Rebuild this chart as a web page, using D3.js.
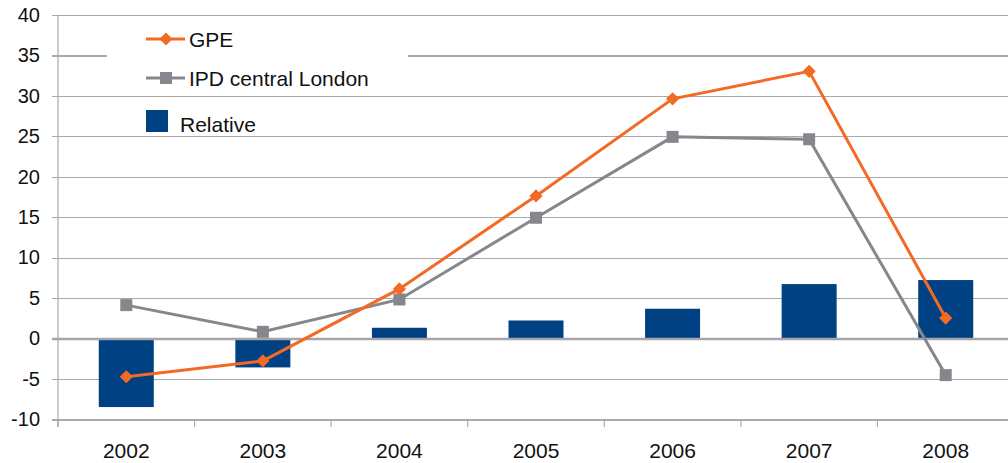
<!DOCTYPE html>
<html><head><meta charset="utf-8">
<script src="https://cdn.jsdelivr.net/npm/d3@7"></script>
<style>body{margin:0;background:#fff}svg{display:block;font-family:"Liberation Sans",Arial,sans-serif}</style>
</head><body><svg id="c" width="1008" height="463"></svg>
<script>
const years = ["2002","2003","2004","2005","2006","2007","2008"];
const gpe = [-4.65, -2.7, 6.2, 17.7, 29.7, 33.1, 2.6];
const ipd = [4.2, 0.9, 4.9, 15.0, 25.0, 24.7, -4.45];
const relative = [-8.4, -3.5, 1.4, 2.3, 3.75, 6.8, 7.3];
const yTicks = [-10, -5, 0, 5, 10, 15, 20, 25, 30, 35, 40];

const svg = d3.select("#c");
const x = d3.scaleBand().domain(years).range([58, 1014]).paddingInner(0).paddingOuter(0);
const y = d3.scaleLinear().domain([-10, 40]).range([420, 15.5]);
const gridCol = "#a9a9ae";

// gridlines
svg.append("g").selectAll("line").data(yTicks.filter(d => d !== 0)).join("line")
  .attr("x1", 52).attr("x2", 1008).attr("y1", d => y(d)).attr("y2", d => y(d))
  .attr("stroke", gridCol).attr("stroke-width", 1.2).attr("shape-rendering", "crispEdges");

// legend background
svg.append("rect").attr("x", 107).attr("y", 22).attr("width", 301).attr("height", 70).attr("fill", "#fff");

// y axis labels
svg.append("g").selectAll("text").data(yTicks).join("text")
  .attr("x", 40).attr("y", d => y(d) - 1).attr("dy", "0.36em").attr("text-anchor", "end")
  .attr("font-size", 20).attr("fill", "#111").text(d => d);

// y axis line
svg.append("line").attr("x1", 58).attr("x2", 58).attr("y1", 15).attr("y2", 427)
  .attr("stroke", gridCol).attr("stroke-width", 1.2);

// x axis ticks
const bounds = years.map(d => x(d)).concat([x(years[years.length-1]) + x.bandwidth()]);
svg.append("g").selectAll("line").data(bounds).join("line")
  .attr("x1", d => d).attr("x2", d => d).attr("y1", 420).attr("y2", 427)
  .attr("stroke", gridCol).attr("stroke-width", 1.2);
svg.append("g").selectAll("text").data(years).join("text")
  .attr("x", d => x(d) + x.bandwidth()/2).attr("y", 458).attr("text-anchor", "middle")
  .attr("font-size", 21).attr("fill", "#111").text(d => d);

// bars
const bw = 55;
svg.append("g").selectAll("rect").data(relative).join("rect")
  .attr("x", (d, i) => x(years[i]) + x.bandwidth()/2 - bw/2)
  .attr("width", bw)
  .attr("y", d => y(Math.max(0, d)))
  .attr("height", d => Math.abs(y(d) - y(0)))
  .attr("fill", "#004183");

// zero line
svg.append("line").attr("x1", 52).attr("x2", 1008).attr("y1", y(0)).attr("y2", y(0))
  .attr("stroke", "#a5a5aa").attr("stroke-width", 2.5);

const cx = (d, i) => x(years[i]) + x.bandwidth()/2;
const line = d3.line().x(cx).y(d => y(d));
const orange = "#f26a24", grey = "#85878c";

svg.append("path").datum(ipd).attr("d", line).attr("fill", "none").attr("stroke", grey).attr("stroke-width", 3);
svg.append("g").selectAll("rect").data(ipd).join("rect")
  .attr("x", (d, i) => cx(d, i) - 6).attr("y", d => y(d) - 6).attr("width", 12).attr("height", 12).attr("fill", grey);

svg.append("path").datum(gpe).attr("d", line).attr("fill", "none").attr("stroke", orange).attr("stroke-width", 3);
svg.append("g").selectAll("path").data(gpe).join("path")
  .attr("d", d3.symbol().type(d3.symbolDiamond2).size(110))
  .attr("transform", (d, i) => `translate(${cx(d, i)},${y(d)})`).attr("fill", orange);

// legend
const lg = svg.append("g");
lg.append("line").attr("x1", 146).attr("x2", 185).attr("y1", 39).attr("y2", 39).attr("stroke", orange).attr("stroke-width", 3);
lg.append("path").attr("d", d3.symbol().type(d3.symbolDiamond2).size(110)).attr("transform", "translate(166,39)").attr("fill", orange);
lg.append("text").attr("x", 189).attr("y", 39).attr("dy", "0.36em").attr("font-size", 21).attr("fill", "#111").text("GPE");
lg.append("line").attr("x1", 146).attr("x2", 185).attr("y1", 78).attr("y2", 78).attr("stroke", grey).attr("stroke-width", 3);
lg.append("rect").attr("x", 160).attr("y", 72).attr("width", 12).attr("height", 12).attr("fill", grey);
lg.append("text").attr("x", 189).attr("y", 78).attr("dy", "0.36em").attr("font-size", 21).attr("fill", "#111").text("IPD central London");
lg.append("rect").attr("x", 146).attr("y", 110).attr("width", 22).attr("height", 22).attr("fill", "#004183");
lg.append("text").attr("x", 180).attr("y", 124).attr("dy", "0.36em").attr("font-size", 21).attr("fill", "#111").text("Relative");
</script></body></html>
